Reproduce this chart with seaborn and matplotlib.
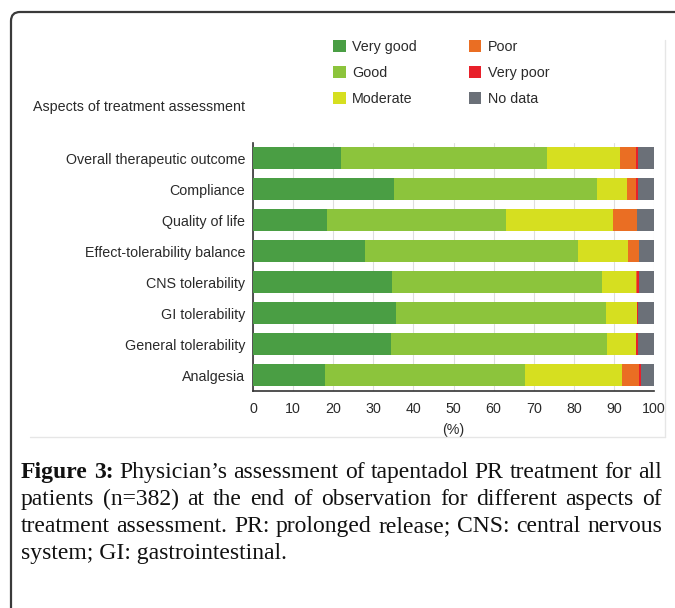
import numpy as np
import pandas as pd
import matplotlib
matplotlib.use("Agg")
import matplotlib.pyplot as plt
import seaborn as sns
from matplotlib.patches import Patch, FancyBboxPatch
from matplotlib.lines import Line2D
from matplotlib.transforms import IdentityTransform

categories = ["Overall therapeutic outcome", "Compliance", "Quality of life",
              "Effect-tolerability balance", "CNS tolerability", "GI tolerability",
              "General tolerability", "Analgesia"]
series_names = ["Very good", "Good", "Moderate", "Poor", "Very poor", "No data"]
very_good = [22.0, 35.2, 18.5, 28.0, 34.6, 35.6, 34.3, 18.0]
good = [51.4, 50.5, 44.6, 53.0, 52.4, 52.4, 54.1, 49.8]
moderate = [18.0, 7.5, 26.8, 12.6, 8.4, 7.7, 7.0, 24.3]
poor = [4.1, 2.3, 5.8, 2.7, 0.4, 0.0, 0.0, 4.1]
very_poor = [0.5, 0.4, 0.0, 0.0, 0.5, 0.2, 0.5, 0.5]
no_data = [4.0, 4.1, 4.3, 3.7, 3.7, 4.1, 4.1, 3.3]
x_ticks = [0, 10, 20, 30, 40, 50, 60, 70, 80, 90, 100]
colors = ["#4a9e44", "#8cc43c", "#d6df20", "#ea6e23", "#e8202a", "#6b7078"]

W, H = 675, 608
sns.set_style("white")
plt.rcParams['font.family'] = ['Liberation Sans', 'DejaVu Sans']
fs = 10.3
txt_col = "#2a2a2a"

fig = plt.figure(figsize=(W / 100, H / 100), dpi=100)
ax = fig.add_axes([253 / W, 1 - 390.5 / H, (654 - 253) / W, (390.5 - 142.7) / H])

vals = np.array([very_good, good, moderate, poor, very_poor, no_data])
cum = np.cumsum(vals, axis=0)
for k in range(len(series_names) - 1, -1, -1):
    df = pd.DataFrame({"aspect": categories, "pct": cum[k]})
    sns.barplot(data=df, x="pct", y="aspect", order=categories, color=colors[k],
                saturation=1, width=0.73, errorbar=None, ax=ax, linewidth=0,
                zorder=3)

ax.set_xlim(0, 100)
ax.set_ylim(7.5, -0.5)
ax.set_xticks(x_ticks)
ax.set_xticklabels([str(t) for t in x_ticks], fontsize=fs, color=txt_col)
ax.set_yticks(np.arange(-0.5, 8, 1))
ax.set_yticklabels([])
ax.set_yticks(np.arange(8), minor=True)
ax.set_yticklabels(categories, minor=True, fontsize=fs, color=txt_col)
ax.tick_params(axis='y', which='minor', length=0, pad=5.5)
ax.tick_params(axis='y', which='major', length=4, width=1.1, color="#333333", direction='out')
ax.tick_params(axis='x', which='major', length=4, width=1.1, color="#333333", direction='out', pad=4)
ax.set_xlabel("(%)", fontsize=fs, color=txt_col, labelpad=5)
ax.set_ylabel("")
ax.grid(axis='x', color="#dedede", linewidth=0.8, zorder=0)
ax.set_axisbelow(True)
for s in ["top", "right"]:
    ax.spines[s].set_visible(False)
for s in ["left", "bottom"]:
    ax.spines[s].set_color("#333333")
    ax.spines[s].set_linewidth(1.2)

handles = [Patch(facecolor=c, edgecolor='none') for c in colors]
fig.legend(handles, series_names, loc='upper left', bbox_to_anchor=(333 / W, 1 - 40 / H),
           ncol=2, frameon=False, fontsize=fs, handlelength=0.9, handleheight=0.9,
           handletextpad=0.45, labelspacing=0.85, columnspacing=3.6, borderpad=0,
           borderaxespad=0, labelcolor=txt_col)

fig.text(33 / W, 1 - 107 / H, "Aspects of treatment assessment", fontsize=fs,
         color=txt_col, ha='left', va='center')

# light frame of the chart image
fig.add_artist(Line2D([30 / W, 665 / W], [1 - 437 / H, 1 - 437 / H], color="#e6e6e6", lw=1))
fig.add_artist(Line2D([665 / W, 665 / W], [1 - 40 / H, 1 - 437 / H], color="#e6e6e6", lw=1))

# outer rounded border
fig.add_artist(FancyBboxPatch((11, -40), 720, H - 12 + 40,
                              boxstyle="round,pad=0,rounding_size=9",
                              transform=IdentityTransform(), facecolor='none',
                              edgecolor="#3a3a3a", linewidth=1.6))

# caption, justified
cap_fs = 17.0
cap_family = ['Liberation Serif', 'DejaVu Serif']
r = fig.canvas.get_renderer()
lines = [
    [("Figure", True), ("3:", True), ("Physician\u2019s", False), ("assessment", False), ("of", False),
     ("tapentadol", False), ("PR", False), ("treatment", False), ("for", False), ("all", False)],
    [("patients", False), ("(n=382)", False), ("at", False), ("the", False), ("end", False), ("of", False),
     ("observation", False), ("for", False), ("different", False), ("aspects", False), ("of", False)],
    [("treatment", False), ("assessment.", False), ("PR:", False), ("prolonged", False), ("release;", False),
     ("CNS:", False), ("central", False), ("nervous", False)],
]
left_px, right_px = 21, 662
baselines = [478, 505, 532, 559]
for words, yb in zip(lines, baselines):
    arts = []
    for w, b in words:
        t = fig.text(0, 1 - yb / H, w, fontsize=cap_fs, family=cap_family,
                     weight='bold' if b else 'normal', va='baseline', ha='left', color="#111111")
        arts.append(t)
    widths = [a.get_window_extent(renderer=r).width for a in arts]
    gap = (right_px - left_px - sum(widths)) / (len(arts) - 1)
    x = left_px
    for a, wd in zip(arts, widths):
        a.set_x(x / W)
        x += wd + gap
fig.text(left_px / W, 1 - baselines[3] / H, "system; GI: gastrointestinal.", fontsize=cap_fs,
         family=cap_family, va='baseline', ha='left', color="#111111")

fig.savefig("out.png", dpi=100)
